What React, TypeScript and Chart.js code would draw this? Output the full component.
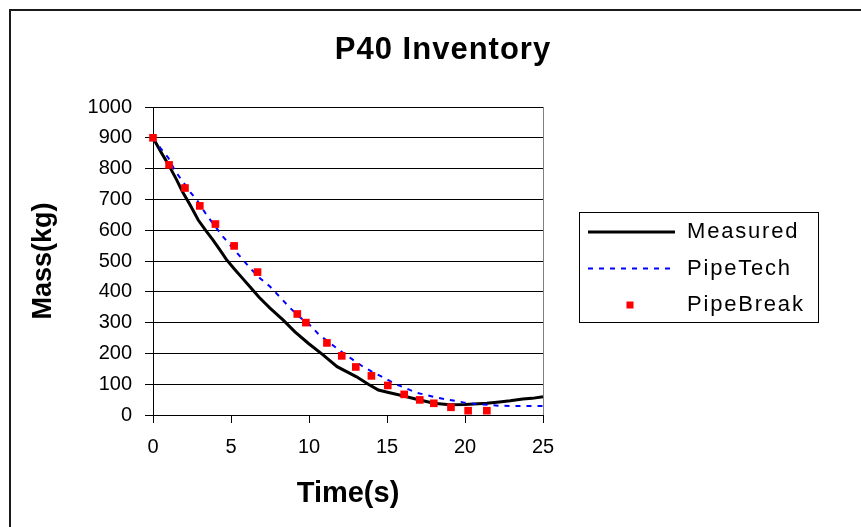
import React, { useEffect, useRef } from "react";
import { Chart, registerables } from "chart.js";

Chart.register(...registerables);

const chartTitle = "P40 Inventory";
const xAxisTitle = "Time(s)";
const yAxisTitle = "Mass(kg)";
const seriesNames = ["Measured", "PipeTech", "PipeBreak"];

const xTickValues = [0, 5, 10, 15, 20, 25];
const yTickValues = [0, 100, 200, 300, 400, 500, 600, 700, 800, 900, 1000];

const measuredTime = [0, 0.5, 1, 1.5, 1.9, 2.4, 2.9, 3.4, 3.85, 4.3, 4.7, 5.2, 5.7, 6.2, 6.8, 7.5, 8.35, 9.1, 9.95, 10.9, 11.8, 13.05, 13.8, 14.45, 15.1, 15.8, 16.9, 18, 19, 20, 21.4, 22.2, 22.9, 23.7, 24.3, 25];
const measuredMass = [900, 855, 812, 765, 724, 680, 633, 598, 568, 535, 505, 475, 446, 417, 382, 347, 308, 270, 233, 195, 157, 124, 100, 81, 73, 65, 51, 38, 33, 34, 38, 42, 46, 52, 54, 59];

const pipeTechTime = [0, 0.49, 0.98, 1.41, 1.88, 2.4, 2.85, 3.4, 4.45, 5.58, 6.2, 6.86, 7.5, 8.08, 8.78, 9.4, 10.06, 10.6, 11.44, 12, 12.74, 13.4, 14.05, 14.8, 15.55, 16.2, 16.9, 17.6, 18.25, 19, 19.9, 20.7, 21.5, 22.2, 23.1, 24, 25];
const pipeTechMass = [900, 866, 835, 793, 760, 723, 695, 652, 581, 515, 478, 444, 417, 386, 348, 318, 292, 263, 230, 208, 182, 159, 140, 121, 100, 87, 72, 64, 56, 49, 41, 36, 33, 30, 29, 29, 29];

const pipeBreakTime = [0, 1.03, 2.05, 3, 4, 5.2, 6.7, 9.25, 9.8, 11.15, 12.1, 13, 14, 15.05, 16.1, 17.1, 18, 19.1, 20.2, 21.4];
const pipeBreakMass = [900, 812, 737, 679, 620, 549, 464, 328, 300, 234, 192, 156, 127, 96, 67, 49, 38, 25, 14, 14];

const FONT = '"Liberation Sans", Arial, sans-serif';

const toPoints = (xs: number[], ys: number[]) => xs.map((x, i) => ({ x, y: ys[i] }));

const decorPlugin = {
  id: "decor",
  beforeDraw(chart: any) {
    const ctx = chart.ctx;
    ctx.save();
    ctx.fillStyle = "#ffffff";
    ctx.fillRect(0, 0, chart.width, chart.height);
    ctx.strokeStyle = "#1a1a1a";
    ctx.lineWidth = 2;
    ctx.strokeRect(10, 10, 1400, 1400);
    ctx.restore();
  },
  afterDraw(chart: any) {
    const ctx = chart.ctx;
    ctx.save();
    // title
    ctx.font = `bold 31px ${FONT}`;
    (ctx as any).letterSpacing = "1px";
    ctx.fillStyle = "#000";
    ctx.textAlign = "center";
    ctx.textBaseline = "alphabetic";
    ctx.fillText(chartTitle, 443, 59);

    // legend
    (ctx as any).letterSpacing = "0px";
    ctx.strokeStyle = "#000";
    ctx.lineWidth = 1;
    ctx.setLineDash([]);
    ctx.strokeRect(579.5, 212.5, 239, 110);
    const rows = [232, 268.5, 305];
    chart.data.datasets.forEach((ds: any, i: number) => {
      const y = rows[i];
      ctx.save();
      if (ds.showLine !== false) {
        ctx.strokeStyle = ds.borderColor;
        ctx.lineWidth = ds.borderWidth;
        ctx.setLineDash(ds.borderDash || []);
        ctx.beginPath();
        ctx.moveTo(588, y);
        ctx.lineTo(675, y);
        ctx.stroke();
      } else {
        ctx.fillStyle = ds.pointBackgroundColor;
        ctx.fillRect(626.5, y - 3.5, 7, 7);
      }
      ctx.restore();
      ctx.font = `22px ${FONT}`;
      (ctx as any).letterSpacing = "1.8px";
      ctx.fillStyle = "#000";
      ctx.textAlign = "left";
      ctx.textBaseline = "middle";
      ctx.fillText(ds.label, 687, y);
      (ctx as any).letterSpacing = "0px";
    });
    ctx.restore();
  },
};

export default function App() {
  const canvasRef = useRef<HTMLCanvasElement | null>(null);

  useEffect(() => {
    if (!canvasRef.current) return;
    const chart = new Chart(canvasRef.current, {
      type: "line",
      data: {
        datasets: [
          {
            label: seriesNames[0],
            data: toPoints(measuredTime, measuredMass),
            borderColor: "#000000",
            backgroundColor: "#000000",
            borderWidth: 3,
            pointRadius: 0,
            tension: 0,
            order: 2,
            clip: false as any,
          },
          {
            label: seriesNames[1],
            data: toPoints(pipeTechTime, pipeTechMass),
            borderColor: "#0000ff",
            backgroundColor: "#0000ff",
            borderWidth: 2,
            borderDash: [5, 6],
            pointRadius: 0,
            tension: 0,
            order: 1,
            clip: false as any,
          },
          {
            label: seriesNames[2],
            data: toPoints(pipeBreakTime, pipeBreakMass),
            showLine: false,
            pointStyle: "rect",
            pointRadius: 5.4,
            pointBackgroundColor: "#ff0000",
            pointBorderColor: "#ff0000",
            pointBorderWidth: 0,
            borderColor: "#ff0000",
            backgroundColor: "#ff0000",
            order: 0,
            clip: false as any,
          },
        ],
      },
      options: {
        animation: false,
        responsive: false,
        maintainAspectRatio: false,
        devicePixelRatio: 1,
        layout: { padding: { left: 0, top: 107, right: 318, bottom: 0 } },
        plugins: {
          legend: { display: false },
          title: { display: false },
          tooltip: { enabled: false },
        },
        scales: {
          x: {
            type: "linear",
            min: 0,
            max: 25,
            afterFit: (s: any) => {
              s.height = 112;
            },
            afterBuildTicks: (s: any) => {
              s.ticks = xTickValues.map((v) => ({ value: v }));
            },
            grid: {
              drawOnChartArea: true,
              color: (c: any) => (c.tick && c.tick.value === 25 ? "#808080" : "rgba(0,0,0,0)"),
              tickColor: "#000",
              tickLength: 8,
              lineWidth: 1,
            },
            border: { color: "#000", width: 1 },
            ticks: {
              font: { size: 20, family: FONT },
              color: "#000",
              padding: 12,
              maxRotation: 0,
              autoSkip: false,
              callback: (v: any) => String(v),
            },
            title: {
              display: true,
              text: xAxisTitle,
              font: { size: 29, weight: "bold", family: FONT },
              color: "#000",
              padding: { top: 0, bottom: 16 },
            },
          },
          y: {
            type: "linear",
            min: 0,
            max: 1000,
            afterFit: (s: any) => {
              s.width = 153;
            },
            afterBuildTicks: (s: any) => {
              s.ticks = yTickValues.map((v) => ({ value: v }));
            },
            grid: {
              color: "#000",
              tickColor: "#000",
              tickLength: 8,
              lineWidth: 1,
            },
            border: { color: "#000", width: 1 },
            ticks: {
              font: { size: 20, family: FONT },
              color: "#000",
              padding: 13,
              autoSkip: false,
              callback: (v: any) => String(v),
            },
            title: {
              display: true,
              text: yAxisTitle,
              font: { size: 27, weight: "bold", family: FONT },
              color: "#000",
              padding: { top: 27, bottom: 0 },
            },
          },
        },
      },
      plugins: [decorPlugin],
    } as any);
    return () => chart.destroy();
  }, []);

  return (
    <div style={{ position: "fixed", left: 0, top: 0, width: 861, height: 527, overflow: "hidden", background: "#fff" }}>
      <canvas ref={canvasRef} width={861} height={527} style={{ display: "block", width: 861, height: 527 }} />
    </div>
  );
}
